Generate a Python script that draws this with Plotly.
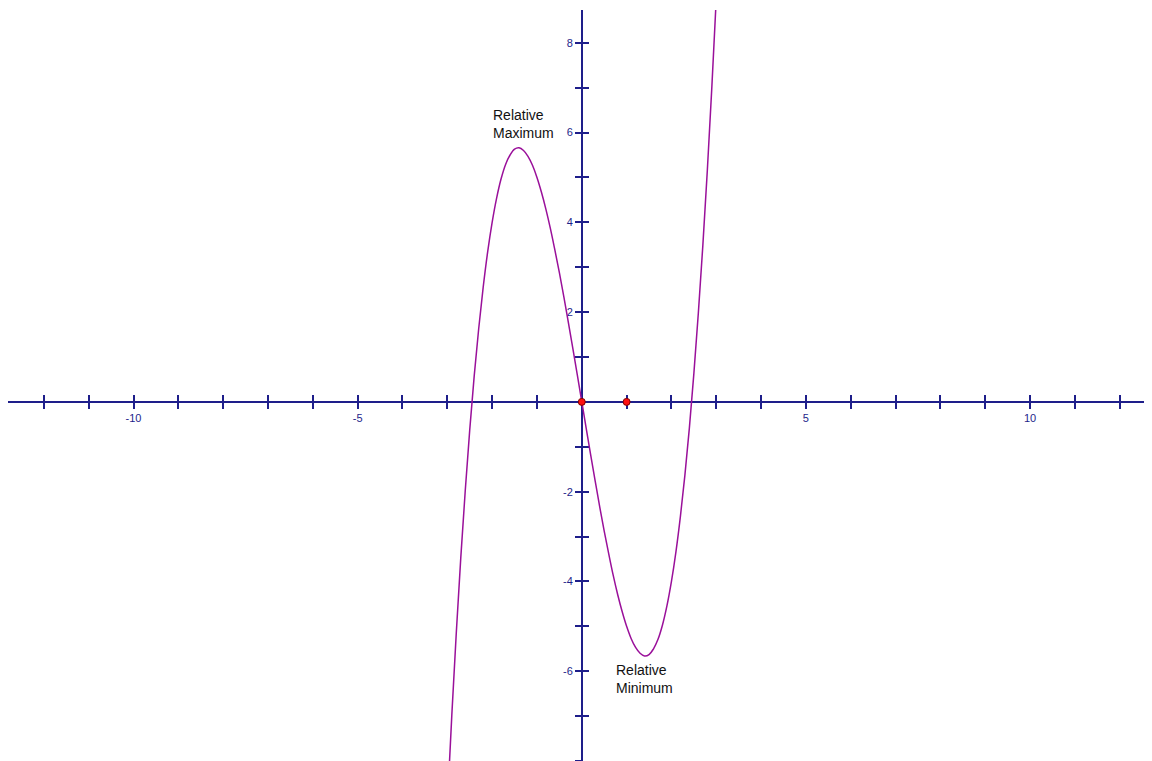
import plotly.graph_objects as go

# curve
curve_x = [-3.0, -2.9, -2.8, -2.7, -2.6, -2.5, -2.4, -2.3, -2.2, -2.1, -2.0, -1.9, -1.8, -1.7, -1.6,
           -1.5, -1.4, -1.3, -1.2, -1.1, -1.0, -0.9, -0.8, -0.7, -0.6, -0.5, -0.4, -0.3, -0.2, -0.1,
           0.0, 0.1, 0.2, 0.3, 0.4, 0.5, 0.6, 0.7, 0.8, 0.9, 1.0, 1.1, 1.2, 1.3, 1.4, 1.5,
           1.6, 1.7, 1.8, 1.9, 2.0, 2.1, 2.2, 2.3, 2.4, 2.5, 2.6, 2.7, 2.8, 2.9, 3.0]
curve_y = [-9.0, -6.99, -5.15, -3.48, -1.98, -0.63, 0.58, 1.63, 2.55, 3.34, 4.0, 4.54, 4.97, 5.29, 5.5,
           5.63, 5.66, 5.6, 5.47, 5.27, 5.0, 4.67, 4.29, 3.86, 3.38, 2.88, 2.34, 1.77, 1.19, 0.6,
           0.0, -0.6, -1.19, -1.77, -2.34, -2.88, -3.38, -3.86, -4.29, -4.67, -5.0, -5.27, -5.47, -5.6, -5.66, -5.63,
           -5.5, -5.29, -4.97, -4.54, -4.0, -3.34, -2.55, -1.63, -0.58, 0.63, 1.98, 3.48, 5.15, 6.99, 9.0]

# marked points on the x axis
point_x = [0, 1]
point_y = [0, 0]

x_ticks = list(range(-12, 13))
x_labels = [str(v) if v in (-10, -5, 5, 10) else "" for v in x_ticks]
y_ticks = list(range(-8, 9))
y_labels = [str(v) if v % 2 == 0 and v != 0 else "" for v in y_ticks]

notes = [("Relative<br>Maximum", -2.03, 6.62), ("Relative<br>Minimum", 0.72, -5.75)]

axis_color = "#1e1e8a"
x_range = [-12.8, 12.72]
y_range = [-8.0, 8.73]
# page body keeps an 8px margin, so the figure is 8px smaller than the window
W, H = 1144, 753
y_dom = 751 / H
x_pos = (0 - y_range[0]) / (y_range[1] - y_range[0]) * y_dom
y_pos = (0 - x_range[0]) / (x_range[1] - x_range[0])

fig = go.Figure()
fig.add_trace(go.Scatter(x=curve_x, y=curve_y, mode="lines",
                         line=dict(color="#9a109a", width=1.5, shape="spline"),
                         hoverinfo="skip"))
fig.add_trace(go.Scatter(x=point_x, y=point_y, mode="markers",
                         marker=dict(color="#ff1010", size=7, line=dict(color="#800000", width=1)),
                         xaxis="x2", yaxis="y2"))

for text, x, y in notes:
    fig.add_annotation(x=x, y=y, text=text, showarrow=False, xanchor="left", yanchor="top",
                       align="left", font=dict(family="Liberation Sans", size=14, color="#111111"))

common_x = dict(range=x_range, domain=[0, 1], anchor="free", position=x_pos, layer="below traces",
                showgrid=False, zeroline=False, showline=True, linecolor=axis_color, linewidth=1.5,
                tickvals=x_ticks, ticklen=6, tickcolor=axis_color, tickwidth=1.5)
common_y = dict(range=y_range, domain=[0, y_dom], anchor="free", position=y_pos, layer="below traces",
                showgrid=False, zeroline=False, showline=True, linecolor=axis_color, linewidth=1.5,
                tickvals=y_ticks, ticklen=6, tickcolor=axis_color, tickwidth=1.5)

fig.update_layout(
    width=W, height=H,
    margin=dict(l=0, r=0, t=0, b=0),
    paper_bgcolor="white", plot_bgcolor="white",
    showlegend=False,
    xaxis=dict(common_x, ticks="outside", ticktext=x_labels,
               tickfont=dict(family="Liberation Sans", size=11, color=axis_color)),
    yaxis=dict(common_y, ticks="outside", ticktext=y_labels, side="left",
               tickfont=dict(family="Liberation Sans", size=11, color=axis_color)),
    xaxis2=dict(common_x, ticks="inside", showticklabels=False, overlaying="x"),
    yaxis2=dict(common_y, ticks="inside", showticklabels=False, overlaying="y", side="left"),
)

fig.write_html("out.html")
